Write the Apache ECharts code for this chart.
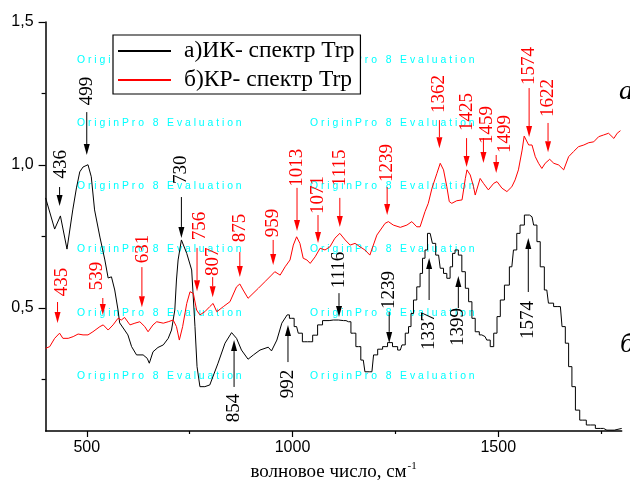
<!DOCTYPE html>
<html><head><meta charset="utf-8">
<script src="https://cdn.jsdelivr.net/npm/echarts@6/dist/echarts.min.js"></script>
<style>html,body{margin:0;padding:0;background:#fff}#c{width:630px;height:493px}</style>
</head><body><div id="c"></div>
<script>
// ---- data ----
const seriesNames = ['а)ИК- спектр Trp', 'б)КР- спектр Trp'];
// IR spectrum, smooth part
const irSmooth = [
[400,0.885],[422,0.776],[436,0.822],[452,0.706],[466,0.843],[475,0.920],[483,0.976],[491,0.993],[503,1.001],[511,0.959],
[519,0.843],[532,0.748],[544,0.668],[552,0.605],[560,0.609],[568,0.563],[576,0.493],[580,0.448],[592,0.423],[600,0.406],
[609,0.365],[621,0.336],[637,0.336],[647,0.324],[652,0.307],[661,0.347],[673,0.362],[686,0.371],[698,0.394],[706,0.423],
[714,0.493],[718,0.598],[722,0.668],[730,0.738],[743,0.691],[755,0.633],[763,0.435],[768,0.295],[775,0.225],[787,0.225],
[799,0.231],[819,0.307],[836,0.377],[852,0.414],[864,0.394],[876,0.353],[892,0.321],[905,0.336],[921,0.353],[941,0.363],
[949,0.350],[962,0.388],[974,0.447],[987,0.476]
];
// IR spectrum, stepped (low resolution) part
const irStepped = [
[987,0.476],[998,0.464],[1010,0.435],[1018,0.412],[1030,0.382],[1043,0.382],[1055,0.405],
[1067,0.441],[1079,0.456],[1099,0.458],[1124,0.456],[1136,0.452],[1148,0.412],[1160,0.365],[1172,0.318],[1180,0.277],[1193,0.277],
[1201,0.336],[1213,0.356],[1225,0.365],[1237,0.379],[1249,0.365],[1262,0.353],[1270,0.371],[1278,0.412],[1286,0.435],[1290,0.481],
[1298,0.528],[1306,0.574],[1314,0.621],[1318,0.674],[1326,0.703],[1330,0.761],[1339,0.755],[1341,0.726],[1355,0.685],[1363,0.639],
[1371,0.621],[1379,0.604],[1387,0.644],[1391,0.691],[1399,0.703],[1407,0.685],[1416,0.627],[1424,0.569],[1432,0.522],[1440,0.464],
[1448,0.417],[1460,0.406],[1468,0.400],[1476,0.388],[1485,0.365],[1493,0.412],[1501,0.470],[1509,0.528],[1521,0.580],[1533,0.644],
[1541,0.703],[1549,0.761],[1557,0.790],[1570,0.825],[1582,0.819],[1590,0.790],[1598,0.732],[1606,0.644],[1618,0.563],[1626,0.517],
[1643,0.505],[1651,0.505],[1659,0.435],[1667,0.377],[1675,0.295],[1683,0.225],[1692,0.143],[1704,0.108],[1724,0.091],[1748,0.079],
[1764,0.073],[1800,0.079]
];
const ramanSpectrum = [
[400,0.359],[410,0.365],[422,0.394],[434,0.412],[442,0.394],[455,0.394],[467,0.400],[479,0.409],[491,0.406],[503,0.406],
[515,0.417],[532,0.435],[540,0.441],[552,0.423],[564,0.441],[576,0.464],[584,0.458],[592,0.467],[605,0.441],[617,0.447],
[629,0.452],[641,0.435],[649,0.417],[661,0.441],[670,0.452],[686,0.447],[698,0.452],[710,0.458],[718,0.435],[725,0.388],
[733,0.435],[743,0.516],[751,0.557],[759,0.551],[767,0.493],[775,0.476],[787,0.487],[799,0.505],[807,0.516],[816,0.487],
[832,0.505],[848,0.522],[864,0.574],[872,0.584],[880,0.563],[892,0.534],[917,0.569],[933,0.592],[949,0.615],[957,0.627],
[970,0.615],[982,0.644],[994,0.668],[1002,0.720],[1010,0.749],[1018,0.726],[1026,0.674],[1035,0.668],[1043,0.656],[1055,0.679],
[1067,0.709],[1079,0.703],[1091,0.714],[1103,0.744],[1115,0.761],[1128,0.738],[1140,0.720],[1152,0.726],[1164,0.714],[1176,0.703],
[1188,0.685],[1205,0.755],[1225,0.796],[1233,0.802],[1245,0.790],[1262,0.782],[1278,0.790],[1290,0.802],[1302,0.784],[1310,0.784],
[1322,0.837],[1330,0.866],[1339,0.919],[1351,0.971],[1359,1.006],[1367,0.983],[1375,0.924],[1381,0.872],[1387,0.866],[1399,0.875],
[1412,0.878],[1420,0.953],[1424,0.983],[1432,0.965],[1440,0.924],[1444,0.895],[1456,0.953],[1464,0.936],[1476,0.913],[1489,0.936],
[1497,0.942],[1509,0.919],[1521,0.907],[1533,0.924],[1541,0.948],[1549,0.983],[1558,1.052],[1563,1.101],[1574,1.070],[1582,1.070],
[1590,1.029],[1598,1.006],[1606,0.988],[1614,1.006],[1625,1.020],[1635,1.006],[1647,1.000],[1659,0.983],[1671,1.029],[1683,1.047],
[1695,1.064],[1708,1.070],[1720,1.078],[1732,1.081],[1744,1.099],[1756,1.105],[1768,1.111],[1781,1.093],[1789,1.111],[1797,1.120]
];
const xTickLabels = [500, 1000, 1500];
const xMinorTicks = [750, 1250, 1750];
const yTickLabels = [0.5, 1.0, 1.5];
const yMinorTicks = [0.25, 0.75, 1.25];
// peak annotations: [text, arrowX, arrowFromY, arrowToY, labelX, labelY]
const irMarks = [
['436',434,0.923,0.857,437,1.003],
['499',500,1.185,1.035,500,1.259],
['730',730,0.888,0.745,730,0.983],
['854',858,0.224,0.388,858,0.150],
['992',989,0.311,0.441,989,0.234],
['1116',1113,0.552,0.469,1113,0.633],
['1239',1235,0.486,0.378,1235,0.563],
['1337',1332,0.528,0.675,1332,0.420],
['1399',1403,0.500,0.612,1403,0.434],
['1574',1573,0.556,0.745,1573,0.458]
];
const ramanMarks = [
['435',429,0.521,0.448,439,0.591],
['539',539,0.535,0.476,524,0.612],
['631',634,0.643,0.503,636,0.706],
['756',768,0.710,0.559,775,0.787],
['807',806,0.608,0.538,806,0.662],
['875',872,0.696,0.608,872,0.780],
['959',953,0.738,0.650,953,0.797],
['1013',1011,0.920,0.769,1011,0.990],
['1071',1062,0.825,0.727,1062,0.895],
['1115',1115,0.885,0.783,1115,0.990],
['1239',1230,0.923,0.825,1230,1.007],
['1362',1357,1.157,1.059,1357,1.248],
['1425',1423,1.094,0.993,1423,1.185],
['1459',1464,1.094,1.007,1473,1.140],
['1499',1495,1.035,0.972,1517,1.108],
['1574',1575,1.269,1.098,1575,1.346],
['1622',1621,1.147,1.045,1621,1.234]
];
const curveLabels = ['a', 'б'];
const watermark = 'O r i g i n P r o   8   E v a l u a t i o n';

// ---- chart ----
const chart = echarts.init(document.getElementById('c'), null, {renderer: 'canvas'});
const SERIF = '"Liberation Serif","Times New Roman",serif';
const SANS = '"Liberation Sans",Arial,sans-serif';
const fmt = v => v.toFixed(1).replace('.', ',');

function annoSeries(marks, color) {
  return {
    type: 'custom', coordinateSystem: 'cartesian2d', silent: true, z: 5,
    xAxisIndex: 0, yAxisIndex: 0,
    data: marks.map(m => m.slice(1)),
    renderItem: function (params, api) {
      const m = marks[params.dataIndex];
      const a = api.coord([api.value(0), api.value(1)]);
      const b = api.coord([api.value(0), api.value(2)]);
      const t = api.coord([api.value(3), api.value(4)]);
      const dir = b[1] > a[1] ? 1 : -1;
      const hl = 11, hw = 3;
      return {type: 'group', children: [
        {type: 'line', shape: {x1: a[0], y1: a[1], x2: b[0], y2: b[1] - dir * hl}, style: {stroke: color, lineWidth: 1}},
        {type: 'polygon', shape: {points: [[b[0], b[1]], [b[0] - hw, b[1] - dir * hl], [b[0] + hw, b[1] - dir * hl]]}, style: {fill: color}},
        {type: 'text', x: t[0], y: t[1], rotation: Math.PI / 2,
         style: {text: m[0], fill: color, font: '19px ' + SERIF, align: 'center', verticalAlign: 'middle'}}
      ]};
    }
  };
}

const wmRows = [61, 124, 187, 250, 314, 377];
const wmCols = [77, 310];
const graphics = [];
wmRows.forEach(y => wmCols.forEach(x => graphics.push({
  type: 'text', left: x, top: y - 6, z: -10, silent: true,
  style: {text: watermark, fill: '#00ffff', font: '10.4px ' + SANS}
})));
graphics.push({type: 'text', left: 619, top: 78, z: 20, style: {text: curveLabels[0], fill: '#000', font: 'italic 28px ' + SERIF}});
graphics.push({type: 'text', left: 620, top: 331, z: 20, style: {text: curveLabels[1], fill: '#000', font: 'italic 28px ' + SERIF}});

const axisLine = {show: true, lineStyle: {color: '#000', width: 1.5}};
chart.setOption({
  animation: false,
  backgroundColor: '#fff',
  grid: {left: 45.6, right: 8.3, top: 22, bottom: 62, containLabel: false, outerBoundsMode: 'none'},
  legend: {
    data: seriesNames, orient: 'vertical', left: 113, top: 35,
    padding: [3, 6, 1, 4], itemGap: 3, itemWidth: 53, itemHeight: 14,
    borderColor: '#000', borderWidth: 1.2, backgroundColor: '#fff',
    itemStyle: {opacity: 0},
    textStyle: {fontFamily: SERIF, fontSize: 23.5, color: '#000', lineHeight: 26, padding: [0, 0, 0, 8]}
  },
  xAxis: [
    {type: 'value', min: 400, max: 1800, position: 'bottom',
     axisLine: axisLine, splitLine: {show: false},
     axisTick: {show: true, inside: false, length: 6, customValues: xTickLabels, lineStyle: {color: '#000', width: 1.2}},
     axisLabel: {customValues: xTickLabels, formatter: v => String(v), color: '#000', fontFamily: SANS, fontSize: 16, margin: 9},
     name: '{a|волновое число, см}{s|-1}', nameLocation: 'middle', nameGap: 30,
     nameTextStyle: {rich: {a: {fontFamily: SERIF, fontSize: 19, color: '#000'}, s: {fontFamily: SERIF, fontSize: 11, color: '#000', padding: [0, 0, 12, 1]}}}
    },
    {type: 'value', min: 400, max: 1800, position: 'bottom',
     axisLine: {show: false}, splitLine: {show: false},
     axisTick: {show: true, length: 3, customValues: xMinorTicks, lineStyle: {color: '#000', width: 1.2}},
     axisLabel: {show: false}}
  ],
  yAxis: [
    {type: 'value', min: 0.07, max: 1.5, position: 'left',
     axisLine: axisLine, splitLine: {show: false},
     axisTick: {show: true, length: 7, customValues: yTickLabels, lineStyle: {color: '#000', width: 1.2}},
     axisLabel: {customValues: yTickLabels, formatter: fmt, color: '#000', fontFamily: SANS, fontSize: 16, margin: 12}},
    {type: 'value', min: 0.07, max: 1.5, position: 'left', offset: 0,
     axisLine: {show: false}, splitLine: {show: false},
     axisTick: {show: true, length: 4, customValues: yMinorTicks, lineStyle: {color: '#000', width: 1.2}},
     axisLabel: {show: false}}
  ],
  graphic: graphics,
  series: [
    {name: seriesNames[0], type: 'line', data: irSmooth, symbol: 'none', z: 3,
     lineStyle: {color: '#000', width: 1}, itemStyle: {color: '#000'}},
    {name: seriesNames[0], type: 'line', data: irStepped, symbol: 'none', step: 'middle', z: 3,
     lineStyle: {color: '#000', width: 1}, itemStyle: {color: '#000'}},
    {name: seriesNames[1], type: 'line', data: ramanSpectrum, symbol: 'none', z: 3,
     lineStyle: {color: '#ff0000', width: 1}, itemStyle: {color: '#ff0000'}},
    annoSeries(irMarks, '#000'),
    annoSeries(ramanMarks, '#ff0000')
  ]
});
</script>
</body></html>
